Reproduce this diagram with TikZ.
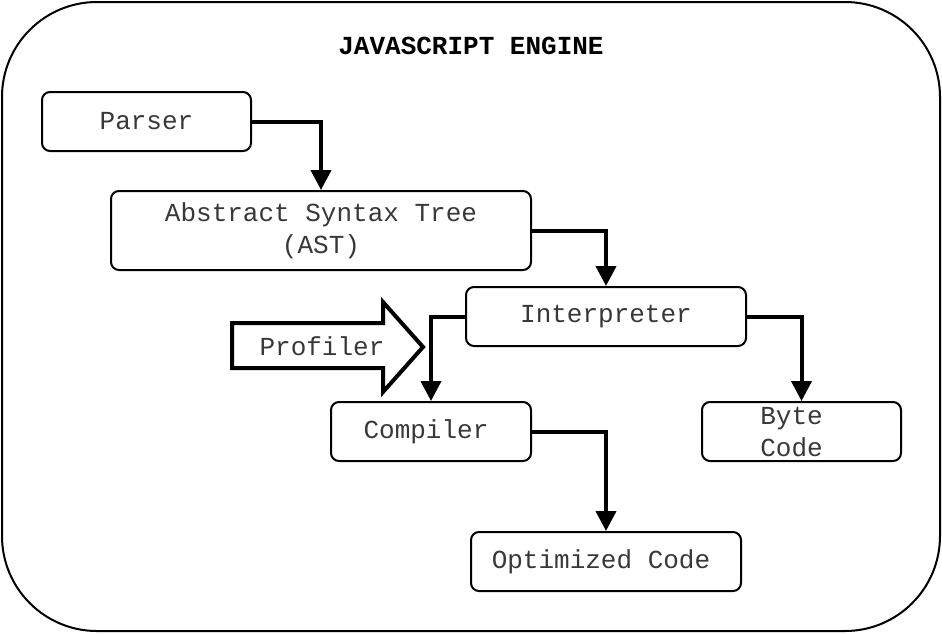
\documentclass[tikz,border=0pt]{standalone}
\usepackage{fontspec}
\setmonofont{Liberation Mono}
\usetikzlibrary{arrows.meta}
\tikzset{
  box/.style={draw=black, line width=2pt, rounded corners=8pt, fill=white,
    inner sep=0pt, align=center, text=black!78,
    font=\ttfamily\fontsize{26}{32}\selectfont},
  conn/.style={line width=4pt, -{Triangle[length=20pt, width=20pt]}},
  txt/.style={inner sep=0pt, align=center, text=black!78,
    font=\ttfamily\fontsize{26}{32}\selectfont}
}
\begin{document}
\begin{tikzpicture}[x=1pt, y=-1pt]
\useasboundingbox (0,0) rectangle (942,633);
\draw[line width=2pt, rounded corners=95pt] (2,2) rectangle (940,631);
\node[txt, font=\ttfamily\bfseries\fontsize{26}{32}\selectfont, text=black] (title) at (471,46) {JAVASCRIPT ENGINE};
\node[box, minimum width=209pt, minimum height=59pt] (parser) at (146.5,121.5) {Parser};
\node[box, minimum width=420pt, minimum height=79pt] (ast) at (321,230.5) {Abstract Syntax Tree\\(AST)};
\node[box, minimum width=280pt, minimum height=59pt] (interp) at (606,316.5) {Interpreter};
\node[box, minimum width=200pt, minimum height=59pt] (comp) at (431,431.5) {Compiler\hspace*{10pt}};
\node[box, minimum width=199pt, minimum height=59pt] (byte) at (801.5,431.5) {Byte\hspace*{20pt}\\Code\hspace*{20pt}};
\node[box, minimum width=270pt, minimum height=59pt] (opt) at (606,561.5) {Optimized Code\hspace*{10pt}};
\draw[line width=4pt, line join=miter] (232,323) -- (383,323) -- (383,302) -- (423,347) -- (383,392) -- (383,368) -- (232,368) -- cycle;
\node[txt] (profiler) at (322,346) {Profiler};
\draw[conn] (parser.east) -| (ast.north);
\draw[conn] (ast.east) -| (interp.north);
\draw[conn] (interp.west) -| (comp.north);
\draw[conn] (interp.east) -| (byte.north);
\draw[conn] (comp.east) -| (opt.north);
\end{tikzpicture}
\end{document}
